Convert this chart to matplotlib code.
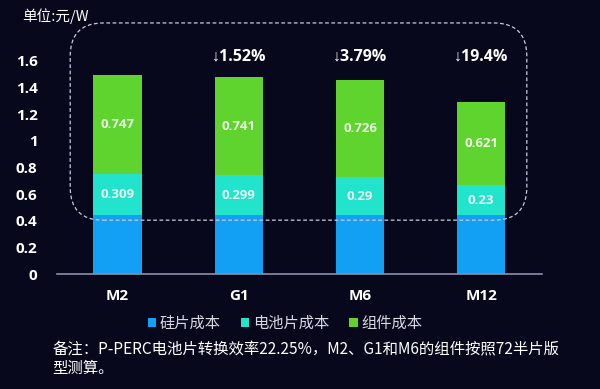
import matplotlib
matplotlib.use("Agg")
import matplotlib.pyplot as plt
from matplotlib.patches import FancyBboxPatch
import numpy as np

plt.rcParams['font.family'] = ['Noto Sans CJK SC', 'DejaVu Sans']

categories = ["M2", "G1", "M6", "M12"]
silicon = [0.44, 0.44, 0.44, 0.44]
cell = [0.309, 0.299, 0.29, 0.23]
module = [0.747, 0.741, 0.726, 0.621]
drops = ["", "↓1.52%", "↓3.79%", "↓19.4%"]
yticks = [0, 0.2, 0.4, 0.6, 0.8, 1, 1.2, 1.4, 1.6]
ytick_labels = ["0", "0.2", "0.4", "0.6", "0.8", "1", "1.2", "1.4", "1.6"]
legend_labels = ["硅片成本", "电池片成本", "组件成本"]

bg = "#08081d"
c_blue = "#12a0f4"
c_cyan = "#22e3cc"
c_green = "#5fd42f"

fig = plt.figure(figsize=(6, 3.89), dpi=100, facecolor=bg)
ax = fig.add_axes([0.095, 0.2956, 0.808, 0.617])
ax.set_facecolor(bg)

x = np.arange(len(categories))
w = 0.4
b1 = ax.bar(x, silicon, w, color=c_blue, label=legend_labels[0])
b2 = ax.bar(x, cell, w, bottom=silicon, color=c_cyan, label=legend_labels[1])
bot3 = np.array(silicon) + np.array(cell)
b3 = ax.bar(x, module, w, bottom=bot3, color=c_green, label=legend_labels[2])

for i in range(len(categories)):
    ax.text(x[i], silicon[i] + cell[i] / 2, f"{cell[i]:g}", ha="center", va="center",
            color="#e6f7f2", fontsize=9.5, fontweight="bold",
            family=["Open Sans", "DejaVu Sans"])
    ax.text(x[i], bot3[i] + module[i] / 2, f"{module[i]:g}", ha="center", va="center",
            color="#eef8e6", fontsize=9.5, fontweight="bold",
            family=["Open Sans", "DejaVu Sans"])
    if drops[i]:
        ax.text(x[i], 1.63, drops[i], ha="center", va="center", color="white",
                fontsize=11.5, fontweight="bold",
                family=["Open Sans", "Liberation Sans", "DejaVu Sans"])

ax.set_xlim(-0.5, 3.5)
ax.set_ylim(0, 1.8)
ax.set_yticks(yticks)
ax.set_yticklabels(ytick_labels)
ax.set_xticks(x)
ax.set_xticklabels(categories)
for s in ["top", "right", "left"]:
    ax.spines[s].set_visible(False)
ax.spines["bottom"].set_color("#8a8fa8")
ax.spines["bottom"].set_linewidth(1.2)
ax.tick_params(axis="y", length=0, colors="white", labelsize=11, pad=14)
ax.tick_params(axis="x", length=0, colors="white", labelsize=11, pad=11)
for lab in ax.get_yticklabels() + ax.get_xticklabels():
    lab.set_fontweight("bold")
    lab.set_family(["Open Sans", "DejaVu Sans"])

leg = fig.legend(handles=[b1, b2, b3], labels=legend_labels, loc="center",
                 bbox_to_anchor=(0.475, 0.168), ncol=3, frameon=False,
                 handlelength=0.55, handleheight=0.55, handletextpad=0.25,
                 columnspacing=1.3, fontsize=11)
for t in leg.get_texts():
    t.set_color("#d8d8e0")

fig.text(0.037, 0.958, "单位:元/W", color="white", fontsize=10.5, va="center", ha="left")

fig.text(0.087, 0.1, "备注：P-PERC电池片转换效率22.25%，M2、G1和M6的组件按照72半片版",
         color="white", fontsize=11.1, va="center", ha="left")
fig.text(0.087, 0.054, "型测算。", color="white", fontsize=11.1, va="center", ha="left")

box = FancyBboxPatch((0.117, 0.434), 0.761, 0.507, boxstyle="round,pad=0,rounding_size=0.055",
                     transform=fig.transFigure, fill=False, edgecolor="#c8ccd8",
                     linestyle=(0, (3, 2)), linewidth=0.9, mutation_aspect=600/389,
                     zorder=5)
fig.patches.append(box)

fig.savefig("out.png", dpi=100, facecolor=bg)
